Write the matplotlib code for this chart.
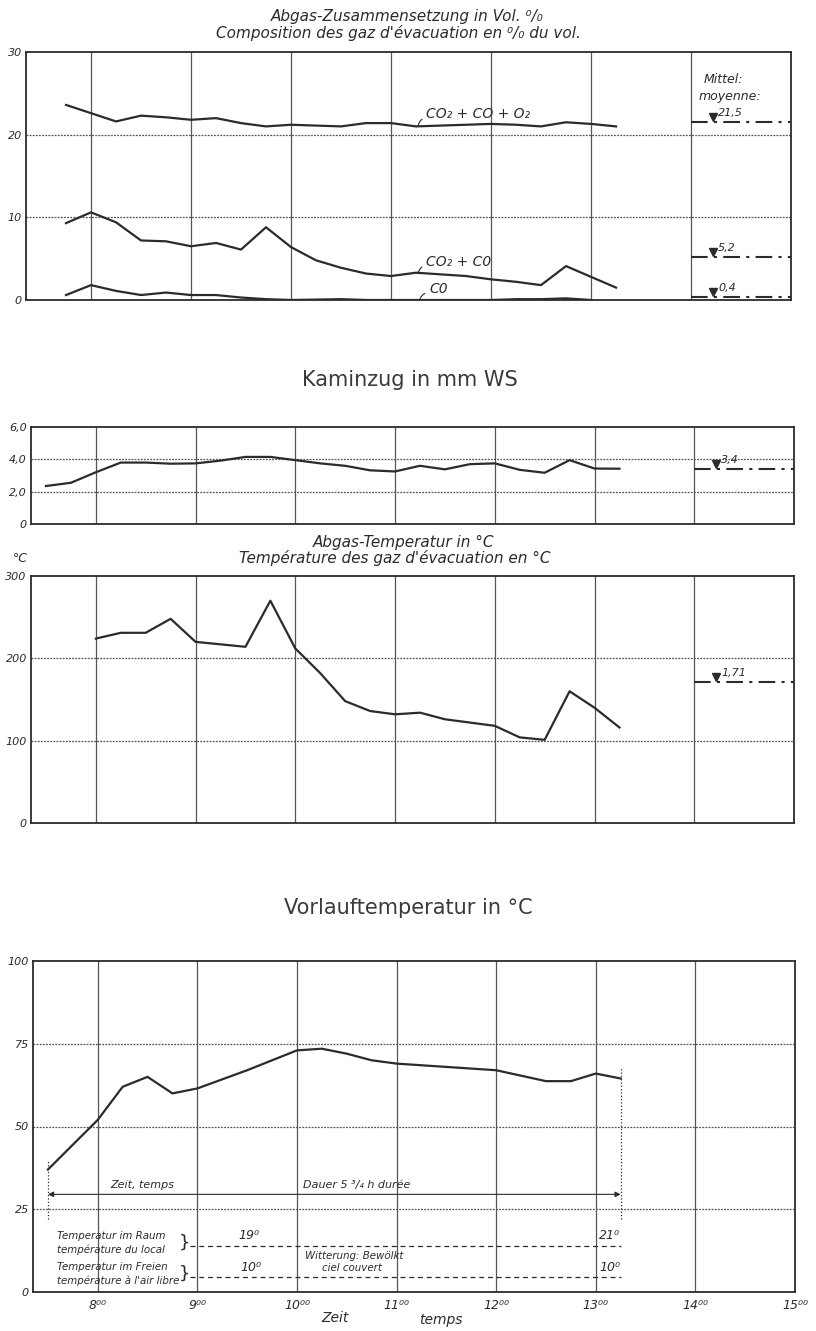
import matplotlib.pyplot as plt
from matplotlib import transforms
import numpy as np

# ---- data (time in hours) ----
t_gas = np.arange(7.75, 13.26, 0.25)          # 7:45 .. 13:15
co2_co_o2 = [23.6, 22.6, 21.6, 22.3, 22.1, 21.8, 22.0, 21.4, 21.0, 21.2, 21.1, 21.0,
             21.4, 21.4, 21.0, 21.1, 21.2, 21.3, 21.2, 21.0, 21.5, 21.3, 21.0]
co2_co = [9.3, 10.6, 9.4, 7.2, 7.1, 6.5, 6.9, 6.1, 8.8, 6.4, 4.8, 3.9,
          3.2, 2.9, 3.3, 3.1, 2.9, 2.5, 2.2, 1.8, 4.1, 2.8, 1.5]
t_co = np.arange(7.75, 13.01, 0.25)           # 7:45 .. 13:00
co = [0.6, 1.8, 1.1, 0.6, 0.9, 0.6, 0.6, 0.3, 0.1, 0.0, 0.05, 0.1,
      0.0, 0.0, 0.0, 0.0, 0.0, 0.0, 0.1, 0.1, 0.2, 0.0]
gas_means = [21.5, 5.2, 0.4]
gas_mean_labels = ['21,5', '5,2', '0,4']

t_draft = np.arange(7.5, 13.26, 0.25)         # 7:30 .. 13:15
draft = [2.35, 2.55, 3.2, 3.8, 3.8, 3.73, 3.75, 3.92, 4.15, 4.15, 3.95, 3.75,
         3.6, 3.32, 3.25, 3.6, 3.38, 3.7, 3.75, 3.35, 3.17, 3.95, 3.43, 3.42]
draft_mean = 3.4
draft_mean_label = '3,4'

t_flue = np.arange(8.0, 13.26, 0.25)          # 8:00 .. 13:15
flue_temp = [224, 231, 231, 248, 220, 217, 214, 270, 212, 182, 148, 136,
             132, 134, 126, 122, 118, 104, 101, 160, 140, 116]
flue_mean = 171
flue_mean_label = '1,71'

t_flow = [7.5, 8.0, 8.25, 8.5, 8.75, 9.0, 9.5, 10.0, 10.25, 10.5, 10.75, 11.0,
          11.25, 12.0, 12.5, 12.75, 13.0, 13.25]
flow_temp = [37, 52, 62, 65, 60, 61.5, 67, 73, 73.5, 72, 70, 69,
             68.5, 67, 63.7, 63.7, 66, 64.5]

hour_labels = ['8⁰⁰', '9⁰⁰', '10⁰⁰', '11⁰⁰', '12⁰⁰', '13⁰⁰', '14⁰⁰', '15⁰⁰']

ink = '#2b2b2b'
grid_c = '#555555'
W, H = 816, 1331

fig = plt.figure(figsize=(W / 100, H / 100), dpi=100)
fig.patch.set_facecolor('white')


def make_axes(left, right, top, bottom):
    return fig.add_axes([left / W, 1 - bottom / H, (right - left) / W, (bottom - top) / H])


def style_axes(ax, ymax, yticks, ylabels, hgrid):
    ax.set_xlim(7.35, 15)
    ax.set_ylim(0, ymax)
    for h in range(8, 15):
        ax.axvline(h, color=grid_c, lw=0.9, zorder=1)
    for y in hgrid:
        ax.axhline(y, color=grid_c, lw=0.9, ls=(0, (1.5, 1)), zorder=1)
    for s in ax.spines.values():
        s.set_color(ink)
        s.set_linewidth(1.3)
    ax.set_xticks([])
    ax.set_yticks(yticks)
    ax.set_yticklabels(ylabels, fontstyle='italic', fontsize=8, color=ink)
    ax.tick_params(axis='y', length=0, pad=3)


def mean_mark(ax, y, label):
    ax.plot([14, 15], [y, y], color=ink, lw=1.5, ls=(0, (8, 3, 1.5, 3)), zorder=3)
    up = transforms.offset_copy(ax.transData, fig=fig, x=0, y=3.5, units='points')
    ax.plot([14.22], [y], marker='v', ms=6, color=ink, transform=up, zorder=4)
    up2 = transforms.offset_copy(ax.transData, fig=fig, x=0, y=3, units='points')
    ax.text(14.27, y, label, transform=up2, fontsize=8, fontstyle='italic',
            color=ink, va='bottom', ha='left')


# ---- panel 1: gas composition ----
ax1 = make_axes(26, 791, 52, 300)
style_axes(ax1, 30, [0, 10, 20, 30], ['0', '10', '20', '30'], [10, 20])
ax1.plot(t_gas, co2_co_o2, color=ink, lw=1.6, zorder=3)
ax1.plot(t_gas, co2_co, color=ink, lw=1.6, zorder=3)
ax1.plot(t_co, co, color=ink, lw=1.6, zorder=3)
for y, lab in zip(gas_means, gas_mean_labels):
    mean_mark(ax1, y, lab)
lead = dict(arrowstyle='-', color=ink, lw=0.8, relpos=(0, 0.25),
            connectionstyle='arc3,rad=0.35', shrinkA=1, shrinkB=0)
ax1.annotate('CO₂ + CO + O₂', xy=(11.27, 21.0), xytext=(11.35, 22.0), fontsize=10,
             fontstyle='italic', color=ink, arrowprops=lead)
ax1.annotate('CO₂ + C0', xy=(11.27, 3.2), xytext=(11.35, 4.1), fontsize=10,
             fontstyle='italic', color=ink, arrowprops=lead)
ax1.annotate('C0', xy=(11.29, 0.15), xytext=(11.38, 0.8), fontsize=10,
             fontstyle='italic', color=ink, arrowprops=lead)
ax1.text(14.13, 26.7, 'Mittel:', fontsize=9, fontstyle='italic', color=ink, va='center')
ax1.text(14.08, 24.6, 'moyenne:', fontsize=9, fontstyle='italic', color=ink, va='center')
fig.text(407 / W, 1 - 17 / H, 'Abgas-Zusammensetzung in Vol. ⁰/₀', ha='center', va='center',
         fontsize=11, fontstyle='italic', color=ink)
fig.text(398 / W, 1 - 33 / H, "Composition des gaz d'évacuation en ⁰/₀ du vol.", ha='center',
         va='center', fontsize=11, fontstyle='italic', color=ink)

# ---- panel 2: chimney draught ----
fig.text(410 / W, 1 - 380 / H, 'Kaminzug in mm WS', ha='center', va='center',
         fontsize=15, color='#3a3a3a')
ax2 = make_axes(31, 794, 427, 524)
style_axes(ax2, 6, [0, 2, 4, 6], ['0', '2,0', '4,0', '6,0'], [2, 4])
ax2.plot(t_draft, draft, color=ink, lw=1.6, zorder=3)
mean_mark(ax2, draft_mean, draft_mean_label)

# ---- panel 3: flue gas temperature ----
fig.text(404 / W, 1 - 542 / H, 'Abgas-Temperatur in °C', ha='center', va='center',
         fontsize=11, fontstyle='italic', color=ink)
fig.text(395 / W, 1 - 558 / H, "Température des gaz d'évacuation en °C", ha='center',
         va='center', fontsize=11, fontstyle='italic', color=ink)
fig.text(20 / W, 1 - 558 / H, '°C', ha='center', va='center', fontsize=9,
         fontstyle='italic', color=ink)
ax3 = make_axes(31, 794, 576, 823)
style_axes(ax3, 300, [0, 100, 200, 300], ['0', '100', '200', '300'], [100, 200])
ax3.plot(t_flue, flue_temp, color=ink, lw=1.6, zorder=3)
mean_mark(ax3, flue_mean, flue_mean_label)

# ---- panel 4: flow temperature ----
fig.text(408 / W, 1 - 908 / H, 'Vorlauftemperatur in °C', ha='center', va='center',
         fontsize=15, color='#3a3a3a')
ax4 = make_axes(33, 795, 961, 1292)
style_axes(ax4, 100, [0, 25, 50, 75, 100], ['0', '25', '50', '75', '100'], [25, 50, 75])
ax4.plot(t_flow, flow_temp, color=ink, lw=1.6, zorder=3)
ax4.set_xticks(range(8, 16))
ax4.set_xticklabels(hour_labels, fontstyle='italic', fontsize=9, color=ink)
ax4.tick_params(axis='x', length=0, pad=5)

# duration arrow and dotted start/end markers
ax4.plot([t_flow[0], t_flow[0]], [22, 40], color=ink, lw=0.9, ls=':')
ax4.plot([t_flow[-1], t_flow[-1]], [22, 68], color=ink, lw=0.9, ls=':')
ax4.annotate('', xy=(t_flow[0], 29.5), xytext=(t_flow[-1], 29.5),
             arrowprops=dict(arrowstyle='<|-|>', color=ink, lw=0.8, mutation_scale=8,
                             shrinkA=0, shrinkB=0))
ax4.text(8.45, 30.7, 'Zeit, temps', ha='center', va='bottom', fontsize=8,
         fontstyle='italic', color=ink)
ax4.text(10.6, 30.7, 'Dauer 5 ³/₄ h durée', ha='center', va='bottom', fontsize=8,
         fontstyle='italic', color=ink)

# room / outdoor temperature lines
ax4.plot([8.93, 13.25], [14, 14], color=ink, lw=0.9, ls=(0, (4, 3)))
ax4.plot([8.93, 13.25], [4.6, 4.6], color=ink, lw=0.9, ls=(0, (4, 3)))
small = dict(fontsize=7.4, fontstyle='italic', color=ink, va='center')
ax4.text(7.59, 17.0, 'Temperatur im Raum', **small)
ax4.text(7.59, 12.9, 'température du local', **small)
ax4.text(7.59, 7.5, 'Temperatur im Freien', **small)
ax4.text(7.59, 3.4, "température à l'air libre", **small)
ax4.text(8.87, 14.8, '}', fontsize=13, color=ink, va='center', ha='center')
ax4.text(8.87, 5.4, '}', fontsize=13, color=ink, va='center', ha='center')
deg = dict(fontsize=9, fontstyle='italic', color=ink, va='center', ha='center')
ax4.text(9.52, 17.2, '19⁰', **deg)
ax4.text(9.54, 7.4, '10⁰', **deg)
ax4.text(13.14, 17.2, '21⁰', **deg)
ax4.text(13.14, 7.4, '10⁰', **deg)
ax4.text(10.57, 10.8, 'Witterung: Bewölkt', ha='center', **small)
ax4.text(10.55, 7.4, 'ciel couvert', ha='center', **small)

fig.text(335 / W, 1 - 1318 / H, 'Zeit', ha='center', va='center', fontsize=10,
         fontstyle='italic', color=ink)
fig.text(441 / W, 1 - 1320 / H, 'temps', ha='center', va='center', fontsize=10,
         fontstyle='italic', color=ink)

fig.savefig('out.png', dpi=100, facecolor='white')
